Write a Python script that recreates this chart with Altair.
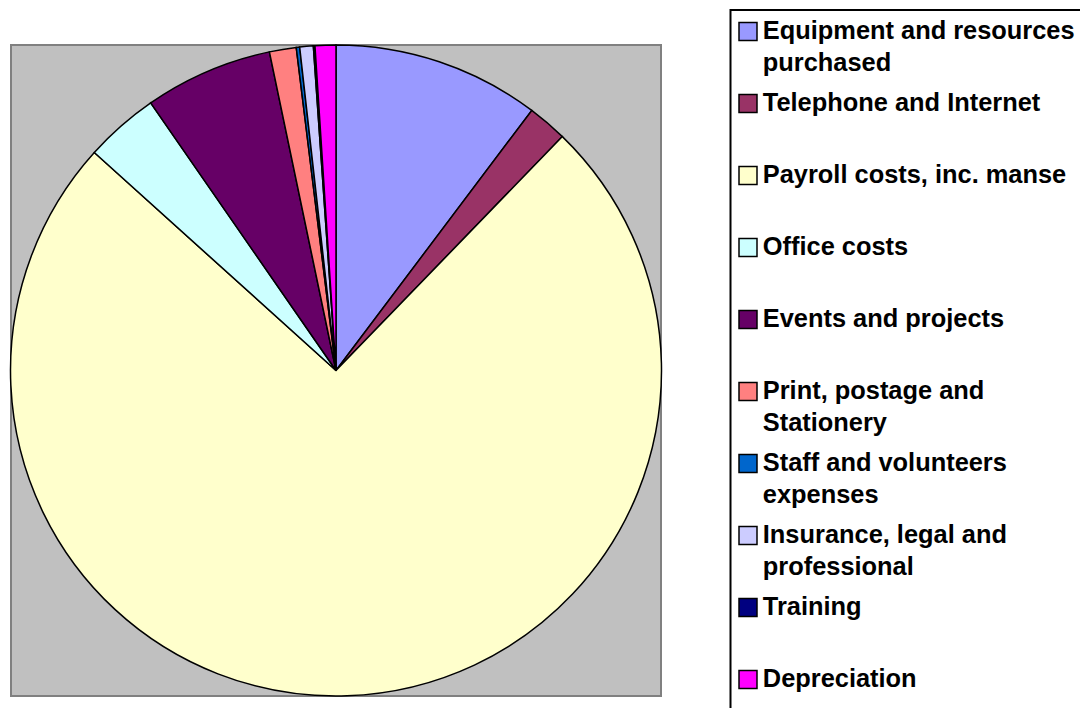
import altair as alt
import pandas as pd

categories = [
    "Equipment and resources purchased",
    "Telephone and Internet",
    "Payroll costs, inc. manse",
    "Office costs",
    "Events and projects",
    "Print, postage and Stationery",
    "Staff and volunteers expenses",
    "Insurance, legal and professional",
    "Training",
    "Depreciation",
]
labels = [
    "Equipment and resources\npurchased",
    "Telephone and Internet",
    "Payroll costs, inc. manse",
    "Office costs",
    "Events and projects",
    "Print, postage and\nStationery",
    "Staff and volunteers\nexpenses",
    "Insurance, legal and\nprofessional",
    "Training",
    "Depreciation",
]
values = [10.27, 1.97, 74.45, 3.68, 6.36, 1.33, 0.17, 0.67, 0.08, 1.03]
colors = ["#9999FF", "#993366", "#FFFFCC", "#CCFFFF", "#660066",
          "#FF8080", "#0066CC", "#CCCCFF", "#000080", "#FF00FF"]

df = pd.DataFrame({
    "category": categories,
    "label": labels,
    "value": values,
    "order": list(range(len(categories))),
})

color_scale = alt.Scale(domain=categories, range=colors)
y_scale = alt.Scale(type="point", domain=categories, range=[-13.5, 634.5], padding=0)

base = alt.Chart(df)

pie = base.mark_arc(outerRadius=325.5, stroke="black", strokeWidth=1.5).encode(
    theta=alt.Theta("value:Q", stack=True),
    order=alt.Order("order:Q"),
    color=alt.Color("category:N", scale=color_scale, legend=None),
)

box = alt.Chart(pd.DataFrame({"a": [0]})).mark_rect(
    filled=False, stroke="black", strokeWidth=2
).encode(
    x=alt.value(719.5), x2=alt.value(3000),
    y=alt.value(-35), y2=alt.value(3000),
)

squares = base.mark_square(size=324, filled=True, opacity=1, stroke="black", strokeWidth=1.5).encode(
    x=alt.value(737.0),
    y=alt.Y("category:N", scale=y_scale, axis=None),
    color=alt.Color("category:N", scale=color_scale, legend=None),
)

texts = base.mark_text(
    align="left", baseline="alphabetic", dy=7.5, fontSize=25.4, fontWeight="bold",
    font="Liberation Sans", lineBreak="\n", lineHeight=32.4, color="black",
).encode(
    x=alt.value(751.8),
    y=alt.Y("category:N", scale=y_scale, axis=None),
    text="label:N",
)

chart = alt.layer(pie, box, squares, texts).properties(
    width=650,
    height=651,
    autosize=alt.AutoSizeParams(type="none"),
    padding={"left": 3, "top": 37, "right": 419, "bottom": 12},
).configure_view(
    fill="#C0C0C0", stroke="#808080", strokeWidth=2
)

chart.save("out.html", embed_options={"renderer": "svg", "actions": False})
